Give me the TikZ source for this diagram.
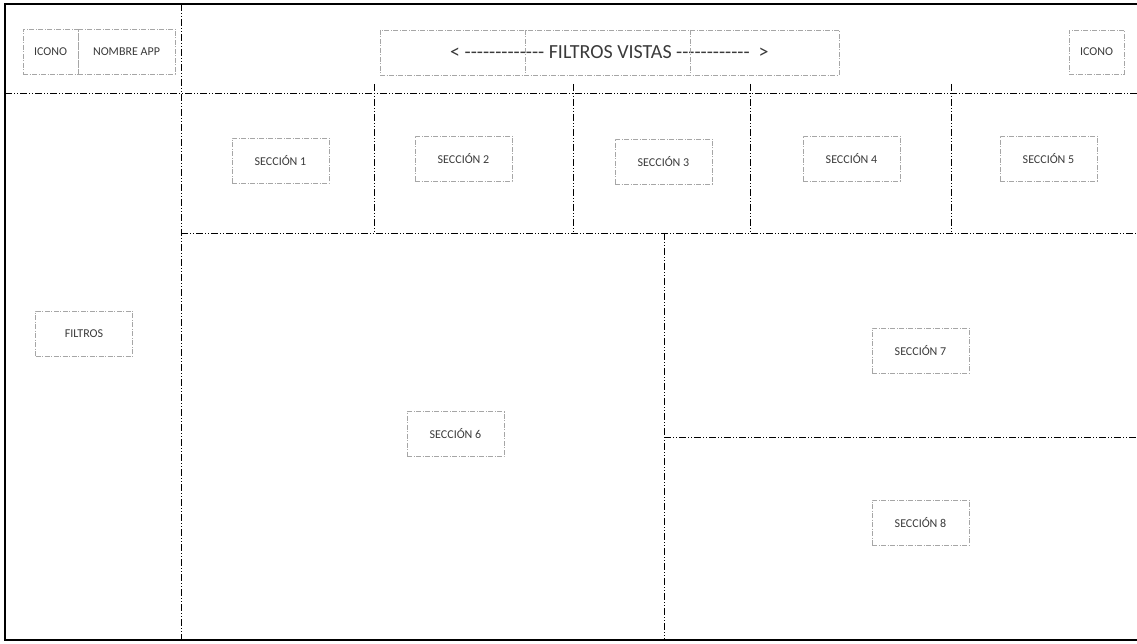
\documentclass[tikz,border=0pt]{standalone}
\usepackage{fontspec}
\setmainfont{Carlito}
\usepackage{tikz}
\definecolor{tinta}{HTML}{3A3A3A}
\definecolor{borde}{HTML}{A6A6A6}
\tikzset{
  guia/.style={black,line width=0.8pt,dash pattern=on 7pt off 2pt on 1pt off 2pt on 1pt off 2pt},
  caja/.style={draw=borde,line width=0.6pt,dash pattern=on 5pt off 1.5pt on 1pt off 1.5pt,
    minimum height=45pt,inner sep=0pt,text=tinta,font=\fontsize{12}{14}\selectfont},
}

\begin{document}
\begin{tikzpicture}[x=1pt,y=-1pt]
\useasboundingbox (0,0) rectangle (1137,644);
% marco
\draw[line width=1.2pt] (1137,4)--(5,4)--(5,640)--(1137,640);
% guias de la rejilla
\draw[guia] (181,4)--(181,640);
\draw[guia] (5,93)--(1137,93);
\draw[guia] (181,233)--(1137,233);
\foreach \x in {374,573,750,951} \draw[guia] (\x,84)--(\x,233);
\draw[guia] (664,233)--(664,640);
\draw[guia] (664,437)--(1137,437);
% cabecera
\node[caja,minimum width=55pt] (icono) at (50.5,51.5) {ICONO};
\node[caja,minimum width=97pt] (app) at (126.5,51.5) {NOMBRE APP};
\node[caja,minimum width=55pt,minimum height=44pt] (iconoder) at (1096.5,52) {ICONO};
\node[caja,minimum width=459pt,font=\fontsize{20}{24}\selectfont] (vistas) at (609.5,52.5)
  {<\ {-}{-}{-}{-}{-}{-}{-}{-}{-}{-}{-}{-}{-}\ FILTROS VISTAS\ {-}{-}{-}{-}{-}{-}{-}{-}{-}{-}{-}{-}\ \ >};
\draw[caja] (525,30)--(525,75);
\draw[caja] (690,30)--(690,75);
% secciones
\node[caja,minimum width=97pt] (filtros) at (84,333.5) {FILTROS};
\foreach \n/\x/\y in {1/280.5/161,2/463.5/158.5,3/663.5/161.5,4/851.5/158.5,5/1048.5/158.5,
    6/455.5/434,7/920.5/350.5,8/920.5/522.5}
  \node[caja,minimum width=97pt] (sec\n) at (\x,\y) {SECCIÓN \n};
\end{tikzpicture}
\end{document}
